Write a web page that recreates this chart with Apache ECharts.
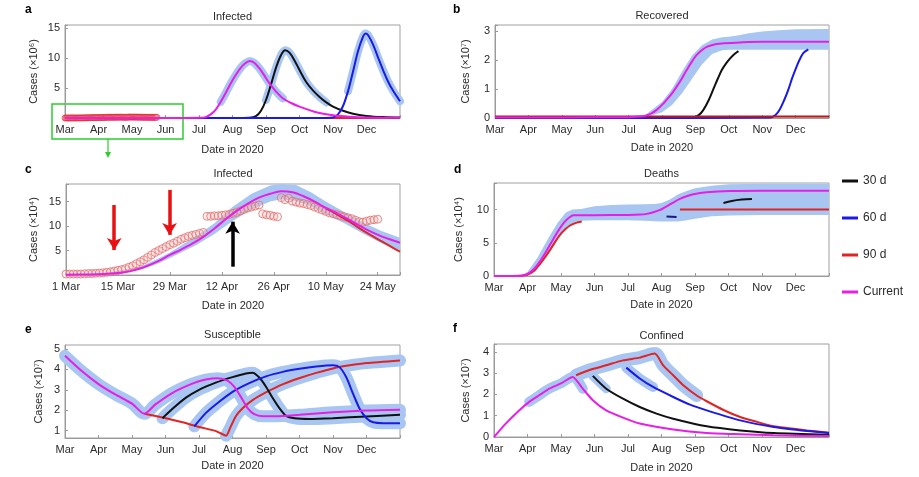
<!DOCTYPE html>
<html><head><meta charset="utf-8">
<script src="https://cdn.jsdelivr.net/npm/echarts@6/dist/echarts.min.js"></script>
<style>html,body{margin:0;padding:0;background:#fff}#c{width:919px;height:477px}</style>
</head><body><div id="c"></div>
<script>
// ---------- labels ----------
const monthLabels = ['Mar','Apr','May','Jun','Jul','Aug','Sep','Oct','Nov','Dec',''];
const cTickLabels = ['1 Mar','15 Mar','29 Mar','12 Apr','26 Apr','10 May','24 May'];
const monthLengths = [31,30,31,30,31,31,30,31,30,31];
const legendNames = ['30 d','60 d','90 d','Current'];

// ---------- panel c: observed infected (x10^4), one value per day from 1 Mar ----------
const cObserved = [0.2,0.2,0.2,0.2,0.2,0.25,0.3,0.3,0.35,0.4,0.45,
  0.55,0.65,0.8,0.95,1.1,1.3,1.6,1.9,2.3,2.7,
  3.1,3.6,4.1,4.6,5.0,5.4,5.8,6.2,6.5,6.9,
  7.3,7.6,7.9,8.1,8.3,8.5,8.7,
  12.0,12.0,12.1,12.1,12.2,12.3,12.4,
  12.6,12.8,13.1,13.4,13.7,13.9,14.1,14.3,
  12.5,12.3,12.2,12.0,11.9,15.8,15.4,15.7,15.1,14.9,14.7,14.6,14.4,14.2,13.9,13.6,13.3,13.0,
  12.7,12.5,12.3,12.1,11.9,11.7,11.5,11.2,10.9,10.8,11.0,11.2,11.3,11.4];
const cCurrent = [[0,0.05],[5,0.1],[10,0.18],[14,0.4],[18,0.9],[22,1.9],[25,2.9],[28,4.1],[31,5.2],[34,6.4],[37,7.8],[40,9.5],[43,11.4],[46,13.1],[49,14.6],[52,15.8],[55,16.6],[58,17.1],[61,16.9],[64,16.1],[67,15.0],[70,13.7],[73,12.6],[76,11.4],[79,10.1],[82,8.9],[85,7.9],[88,7.1],[90,6.6]];
const c90 = [[70,13.6],[73,12.4],[76,11.1],[79,9.6],[82,8.2],[85,6.9],[88,5.6],[90,4.8]];
const cBandX = [0,10,20,25,28,35,40,45,50,55,58,62,66,70,75,80,85,90];
const cBandLo = [0,0.1,1.1,2.4,3.5,6.1,8.4,11.1,13.4,15.0,15.5,15.1,14.0,12.4,10.6,8.5,6.5,5.1];
const cBandHi = [0.1,0.3,1.7,3.4,4.6,7.9,10.6,14.0,16.6,18.3,18.6,18.4,16.9,15.0,12.9,10.8,9.0,7.6];

// ---------- panel a: infected (x10^6), x = months since 1 Mar ----------
const aCurrent = [[0,0],[2,0],[3.5,0.01],[4.0,0.03],[4.2,0.15],[4.35,0.6],[4.5,1.4],[4.65,2.7],[4.8,4.2],[4.95,5.8],[5.1,7.2],[5.25,8.4],[5.4,9.2],[5.52,9.5],[5.65,9.2],[5.8,8.3],[5.95,7.1],[6.1,5.8],[6.3,4.4],[6.5,3.3],[6.75,2.5],[7.0,1.9],[7.5,0.95],[8.0,0.45],[8.5,0.2],[9,0.08],[10,0.03]];
const a30 = [[0,0],[3,0],[5.0,0.01],[5.5,0.05],[5.7,0.3],[5.85,1.2],[6.0,3.0],[6.15,5.6],[6.3,8.4],[6.45,10.5],[6.57,11.3],[6.7,10.9],[6.85,9.6],[7.0,8.0],[7.2,6.0],[7.4,4.6],[7.6,3.5],[7.8,2.6],[8.0,1.9],[8.3,1.2],[8.6,0.7],[9.0,0.35],[9.5,0.15],[10,0.07]];
const a60 = [[0,0],[4,0],[7.5,0.01],[8.0,0.1],[8.15,0.6],[8.3,2.0],[8.45,4.5],[8.6,7.8],[8.75,11.2],[8.9,13.6],[8.97,14.1],[9.05,13.8],[9.2,12.2],[9.35,10.0],[9.5,7.9],[9.65,6.0],[9.8,4.5],[10,2.8]];
const a90 = [[0,0],[10,0]];

// ---------- panel b: recovered (x10^7) ----------
const bCurrent = [[0,0.02],[2,0.02],[4.0,0.03],[4.3,0.05],[4.5,0.08],[4.7,0.17],[4.84,0.28],[5.0,0.45],[5.14,0.63],[5.3,0.85],[5.44,1.08],[5.6,1.37],[5.74,1.65],[5.9,1.95],[6.04,2.17],[6.2,2.34],[6.34,2.45],[6.6,2.54],[6.84,2.57],[7.34,2.6],[8,2.62],[10,2.62]];
const b30 = [[0,0],[3,0],[5.94,0.02],[6.1,0.1],[6.24,0.28],[6.4,0.62],[6.54,1.0],[6.67,1.35],[6.79,1.65],[6.92,1.88],[7.04,2.05],[7.17,2.2],[7.29,2.3]];
const b60 = [[0,0],[4,0],[8.25,0.02],[8.4,0.1],[8.53,0.3],[8.66,0.62],[8.78,0.97],[8.9,1.38],[9.03,1.77],[9.13,2.03],[9.23,2.23],[9.38,2.36]];
const b90 = [[0,0.05],[10,0.05]];
const bBandX = [4.0,4.5,5.0,5.3,5.6,5.9,6.2,6.5,6.8,7.0,7.3,7.6,8.0,8.5,9,10];
const bBandLo = [0,0.02,0.2,0.45,0.85,1.35,1.85,2.2,2.33,2.35,2.35,2.35,2.35,2.35,2.35,2.35];
const bBandHi = [0.02,0.1,0.55,1.0,1.6,2.15,2.5,2.7,2.78,2.8,2.85,2.92,2.98,3.02,3.05,3.06];

// ---------- panel d: deaths (x10^4) ----------
const dCurrent = [[0,0],[0.5,0.01],[0.8,0.05],[1.0,0.3],[1.2,1.1],[1.37,2.2],[1.52,3.4],[1.67,4.7],[1.82,6.0],[1.97,7.2],[2.1,8.1],[2.22,8.7],[2.37,9.15],[3,9.15],[4.0,9.2],[4.36,9.25],[4.56,9.35],[4.76,9.6],[4.96,9.95],[5.16,10.5],[5.36,11.1],[5.55,11.6],[5.75,12.0],[5.95,12.3],[6.35,12.6],[7.05,12.8],[8,12.85],[10,12.85]];
const d90a = [[0,0],[0.5,0.01],[0.8,0.03],[1.0,0.2],[1.2,0.8],[1.37,1.8],[1.52,2.8],[1.67,3.9],[1.82,5.1],[1.97,6.2],[2.12,7.0],[2.27,7.6],[2.45,8.0],[2.62,8.2]];
const d90b = [[5.55,10.0],[10,10.0]];
const d30 = [[6.85,11.0],[7.1,11.3],[7.4,11.5],[7.7,11.6]];
const d60 = [[5.15,8.95],[5.45,8.9]];
const dBandX = [0,0.8,1.0,1.3,1.6,1.9,2.15,2.35,2.6,3.0,3.5,4.0,4.5,4.8,5.0,5.25,5.5,5.75,6.0,6.5,7.0,8.0,9.0,10];
const dBandLo = [0,0,0.1,1.2,3.3,5.6,7.2,7.9,8.3,8.4,8.4,8.4,8.3,8.25,8.2,8.2,8.2,8.4,8.6,9.0,9.1,9.2,9.2,9.2];
const dBandHi = [0,0.05,0.6,2.8,5.5,8.0,9.6,10.0,10.1,10.5,10.7,10.75,10.8,10.85,11.0,11.5,12.3,12.8,13.2,13.6,13.8,13.9,13.9,13.9];

// ---------- panel e: susceptible (x10^7) ----------
const eCurrent = [[0,4.67],[0.5,3.92],[1.0,3.28],[1.5,2.77],[2.0,2.32],[2.37,1.82],[2.7,2.28],[3.2,2.84],[3.8,3.3],[4.2,3.5],[4.56,3.57],[4.85,3.45],[5.05,3.15],[5.25,2.65],[5.45,2.1],[5.65,1.8],[5.9,1.7],[6.3,1.7],[7.0,1.77],[8.0,1.89],[9.0,1.98],[10,2.02]];
const e90 = [[2.37,1.82],[3.01,1.6],[3.51,1.4],[4.01,1.17],[4.51,0.97],[4.81,0.74],[4.95,1.2],[5.1,1.7],[5.31,2.1],[5.61,2.5],[6.01,2.88],[6.51,3.28],[7.01,3.58],[7.5,3.83],[8.0,4.05],[8.5,4.2],[9.0,4.31],[10,4.44]];
const e30 = [[2.91,1.6],[3.2,2.05],[3.6,2.6],[4.0,3.0],[4.5,3.35],[5.0,3.62],[5.4,3.8],[5.6,3.84],[5.8,3.6],[6.0,3.15],[6.2,2.6],[6.4,2.1],[6.6,1.72],[6.85,1.6],[7.3,1.56],[8.0,1.6],[9.0,1.69],[10,1.77]];
const e60 = [[3.86,1.2],[4.2,1.85],[4.5,2.28],[5.0,2.9],[5.5,3.33],[6.0,3.66],[6.5,3.88],[7.0,4.03],[7.5,4.14],[8.0,4.2],[8.2,4.1],[8.4,3.6],[8.6,2.8],[8.8,2.05],[9.0,1.6],[9.2,1.4],[9.5,1.36],[10,1.36]];

// ---------- panel f: confined (x10^7) ----------
const fCurrent = [[0,0],[0.35,0.63],[0.75,1.25],[1.05,1.65],[1.35,1.96],[1.65,2.27],[2.0,2.52],[2.35,2.82],[2.65,2.27],[2.95,1.73],[3.35,1.25],[3.85,0.91],[4.35,0.63],[5.35,0.35],[6.35,0.19],[7.35,0.13],[8.35,0.08],[10,0.05]];
const f90 = [[2.45,2.9],[2.85,3.15],[3.35,3.37],[3.85,3.6],[4.35,3.73],[4.8,3.92],[5.05,3.37],[5.35,2.9],[5.65,2.43],[6.05,1.95],[6.35,1.68],[6.85,1.27],[7.35,0.94],[7.85,0.71],[8.35,0.5],[9.35,0.31],[10,0.2]];
const f30 = [[2.95,2.87],[3.35,2.27],[3.85,1.8],[4.35,1.41],[4.85,1.1],[5.35,0.86],[6.35,0.5],[7.35,0.31],[8.35,0.19],[10,0.11]];
const f60 = [[3.95,3.26],[4.35,2.75],[4.75,2.35],[5.35,1.88],[5.85,1.52],[6.35,1.25],[7.35,0.78],[8.35,0.47],[9.35,0.28],[10,0.19]];

// ---------- styling ----------
const FONT = '"Liberation Sans", Arial, Helvetica, sans-serif';
const C30 = '#111111', C60 = '#1a1ae6', C90 = '#e02424', CCUR = '#e61ee6', CBAND = '#a9c6f3';
const AX = '#9a9a9a', TXT = '#2a2a2a';

function dayToMonth(d) { let m = 0; while (m < monthLengths.length && d >= monthLengths[m]) { d -= monthLengths[m]; m++; } return m + d / monthLengths[Math.min(m, monthLengths.length - 1)]; }

function lineS(name, gi, data, color, extra) {
  return Object.assign({type:'line', name, xAxisIndex:gi, yAxisIndex:gi, data, color,
    itemStyle:{color}, symbol:'none', showSymbol:false, lineStyle:{color, width:2},
    smooth:0.35, z:5, silent:true, animation:false}, extra || {});
}
function bandLine(gi, data, width) {
  return {type:'line', name:'band', xAxisIndex:gi, yAxisIndex:gi, data, symbol:'none', showSymbol:false,
    lineStyle:{color:CBAND, width, cap:'round', join:'round'}, smooth:0.35, z:2, silent:true, animation:false};
}
function bandArea(gi, xs, lo, hi) {
  return {type:'custom', name:'band', xAxisIndex:gi, yAxisIndex:gi,
    data: xs.map((x, i) => [x, lo[i], hi[i]]), encode:{x:0, y:[1,2]}, z:2, silent:true, animation:false,
    renderItem(params, api) {
      if (params.dataIndex !== 0) return null;
      const pts = [];
      for (let i = 0; i < xs.length; i++) pts.push(api.coord([xs[i], hi[i]]));
      for (let i = xs.length - 1; i >= 0; i--) pts.push(api.coord([xs[i], lo[i]]));
      return {type:'polygon', shape:{points:pts}, style:{fill:CBAND}};
    }};
}

function xMonth(gi, gap) {
  return {type:'value', gridIndex:gi, min:0, max:10, interval:1, name:'Date in 2020', nameLocation:'middle', nameGap:gap,
    nameTextStyle:{fontSize:11, color:TXT, fontFamily:FONT},
    axisLine:{show:true, onZero:false, lineStyle:{color:AX}}, axisTick:{show:true, inside:true, length:3, lineStyle:{color:AX}},
    axisLabel:{color:TXT, fontSize:11, fontFamily:FONT, margin:6, formatter: v => monthLabels[Math.round(v)] || ''},
    splitLine:{show:false}};
}
function yAx(gi, min, max, interval, name, gap, hideZero, custom) {
  const ax = {type:'value', gridIndex:gi, min, max, name, nameLocation:'middle', nameRotate:90, nameGap:gap,
    nameTextStyle:{fontSize:11, color:TXT, fontFamily:FONT},
    axisLine:{show:true, onZero:false, lineStyle:{color:AX}}, axisTick:{show:true, inside:true, length:3, lineStyle:{color:AX}},
    axisLabel:{color:TXT, fontSize:11, fontFamily:FONT, margin:5,
      formatter: v => { if (hideZero && v === 0) return ''; const r = v / interval; return Math.abs(r - Math.round(r)) < 1e-6 ? String(Math.round(v)) : ''; }},
    splitLine:{show:false}};
  if (custom) { ax.axisLabel.customValues = custom; ax.axisTick.customValues = custom; }
  else ax.interval = interval;
  return ax;
}

const grids = [
  {left:65, top:25, width:335, height:93},
  {left:495, top:25, width:334, height:93},
  {left:66, top:184, width:334, height:91},
  {left:494, top:183, width:335, height:93},
  {left:65, top:345, width:335, height:93},
  {left:494, top:344, width:335, height:93}
].map(g => Object.assign({show:true, borderColor:'#a0a0a0', borderWidth:1, backgroundColor:'transparent', containLabel:false}, g));

const xAxes = [
  xMonth(0, 26), xMonth(1, 24),
  {type:'value', gridIndex:2, min:0, max:90, interval:14, name:'Date in 2020', nameLocation:'middle', nameGap:25,
    nameTextStyle:{fontSize:11, color:TXT, fontFamily:FONT},
    axisLine:{show:true, onZero:false, lineStyle:{color:AX}}, axisTick:{show:true, inside:true, length:3, lineStyle:{color:AX}},
    axisLabel:{color:TXT, fontSize:11, fontFamily:FONT, margin:6, formatter: v => (v % 14 === 0 ? (cTickLabels[v / 14] || '') : '')},
    splitLine:{show:false}},
  xMonth(3, 23), xMonth(4, 22), xMonth(5, 25)
];
const yAxes = [
  yAx(0, 0, 15.5, 5, 'Cases (×10⁶)', 26, true),
  yAx(1, 0, 3.2, 1, 'Cases (×10⁷)', 24, false),
  yAx(2, 0, 18.6, 5, 'Cases (×10⁴)', 27, true),
  yAx(3, 0, 14, 5, 'Cases (×10⁴)', 30, false),
  yAx(4, 0.63, 5.2, 1, 'Cases (×10⁷)', 21, false, [1,2,3,4,5]),
  yAx(5, 0, 4.37, 1, 'Cases (×10⁷)', 23, false)
];

const aObs = cObserved.map((v, i) => [dayToMonth(i), v / 100]);
const cObs = cObserved.map((v, i) => [i, v]);
const big = p => p[1] > 2.5;

const series = [
  // a
  bandLine(0, aCurrent.filter(big), 8), bandLine(0, a30.filter(big), 8), bandLine(0, a60.filter(big), 8),
  lineS('90 d', 0, a90, C90),
  {type:'scatter', name:'obs', xAxisIndex:0, yAxisIndex:0, data:aObs, symbol:'circle', symbolSize:6,
    itemStyle:{color:'rgba(255,170,170,0.35)', borderColor:C90, borderWidth:0.8, opacity:0.8}, z:4, silent:true, animation:false},
  lineS('30 d', 0, a30, C30), lineS('60 d', 0, a60, C60), lineS('Current', 0, aCurrent, CCUR),
  // b
  lineS('30 d', 1, b30, C30), lineS('60 d', 1, b60, C60),
  bandArea(1, bBandX, bBandLo, bBandHi),
  lineS('90 d', 1, b90, '#c01818'), lineS('Current', 1, bCurrent, CCUR, {z:6}),
  // c
  bandArea(2, cBandX, cBandLo, cBandHi),
  {type:'scatter', name:'obs', xAxisIndex:2, yAxisIndex:2, data:cObs, symbol:'circle', symbolSize:8,
    itemStyle:{color:'rgba(255,190,190,0.3)', borderColor:'#e07070', borderWidth:1}, z:4, silent:true, animation:false,
    markLine:{silent:true, animation:false, symbol:['none','arrow'], symbolSize:[11,12], label:{show:false},
      emphasis:{disabled:true},
      data:[
        [{coord:[13,14.3], lineStyle:{color:'#e81010', width:3.5, type:'solid'}, itemStyle:{color:'#e81010'}}, {coord:[13,5.1]}],
        [{coord:[27.9,17.4], lineStyle:{color:'#e81010', width:3.5, type:'solid'}, itemStyle:{color:'#e81010'}}, {coord:[27.9,8.2]}],
        [{coord:[44.9,1.7], lineStyle:{color:'#000', width:3.5, type:'solid'}, itemStyle:{color:'#000'}}, {coord:[44.9,10.9]}]
      ]}},
  lineS('90 d', 2, c90, C90), lineS('Current', 2, cCurrent, CCUR, {z:6}),
  // d
  bandArea(3, dBandX, dBandLo, dBandHi),
  lineS('90 d', 3, d90a, C90, {smooth:0.2}), lineS('90 d', 3, d90b, C90),
  lineS('30 d', 3, d30, C30), lineS('60 d', 3, d60, '#1a1a80'),
  lineS('Current', 3, dCurrent, CCUR, {z:6, smooth:0.2}),
  // e
  bandLine(4, eCurrent, 12), bandLine(4, e90.filter(p => p[0] >= 4.81), 12),
  bandLine(4, e30, 12), bandLine(4, e60, 12),
  lineS('90 d', 4, e90, C90, {smooth:0.2}), lineS('30 d', 4, e30, C30, {smooth:0.25}), lineS('60 d', 4, e60, C60, {smooth:0.25}),
  lineS('Current', 4, eCurrent, CCUR, {z:6, smooth:0.25}),
  // f
  bandLine(5, fCurrent.filter(p => p[0] >= 0.9 && p[0] <= 2.7), 10),
  bandLine(5, f90.filter(p => p[0] <= 6.1), 13),
  bandLine(5, f30.filter(p => p[0] <= 3.6), 9), bandLine(5, f60.filter(p => p[0] <= 4.8), 10),
  lineS('90 d', 5, f90, C90, {smooth:0.2}), lineS('30 d', 5, f30, C30, {smooth:0.25}), lineS('60 d', 5, f60, C60, {smooth:0.25}),
  lineS('Current', 5, fCurrent, CCUR, {z:6, smooth:0.2})
];

function txt(x, y, s, extra) {
  return {type:'text', x, y, silent:true, style:Object.assign({text:s, fill:TXT, font:'11px ' + FONT, align:'center', verticalAlign:'middle'}, extra || {})};
}
const graphics = [
  txt(232.5, 17, 'Infected'), txt(662, 16, 'Recovered'), txt(233, 174, 'Infected'),
  txt(661.5, 174, 'Deaths'), txt(232.5, 335, 'Susceptible'), txt(661.5, 336, 'Confined'),
  txt(25, 10, 'a', {font:'bold 12px ' + FONT, fill:'#000', align:'left'}),
  txt(453, 10, 'b', {font:'bold 12px ' + FONT, fill:'#000', align:'left'}),
  txt(25, 170, 'c', {font:'bold 12px ' + FONT, fill:'#000', align:'left'}),
  txt(454, 170, 'd', {font:'bold 12px ' + FONT, fill:'#000', align:'left'}),
  txt(25, 330, 'e', {font:'bold 12px ' + FONT, fill:'#000', align:'left'}),
  txt(453, 329, 'f', {font:'bold 12px ' + FONT, fill:'#000', align:'left'}),
  {type:'rect', silent:true, shape:{x:52, y:104, width:131, height:35}, style:{fill:'none', stroke:'#2ecc2e', lineWidth:1.5}},
  {type:'line', silent:true, shape:{x1:108, y1:139, x2:108, y2:153}, style:{stroke:'#2ecc2e', lineWidth:1.2}},
  {type:'polygon', silent:true, shape:{points:[[105,152],[111,152],[108,158]]}, style:{fill:'#2ecc2e'}}
];

const chart = echarts.init(document.getElementById('c'), null, {renderer:'canvas', width:919, height:477});
chart.setOption({
  animation:false, backgroundColor:'#fff', textStyle:{fontFamily:FONT},
  grid:grids, xAxis:xAxes, yAxis:yAxes, series,
  legend:{data:legendNames, orient:'vertical', left:842, top:174, padding:0, itemWidth:16, itemHeight:3, icon:'rect', itemGap:23,
    selectedMode:false, textStyle:{fontSize:12, color:TXT, fontFamily:FONT, lineHeight:14}},
  graphic:graphics
});
</script></body></html>
